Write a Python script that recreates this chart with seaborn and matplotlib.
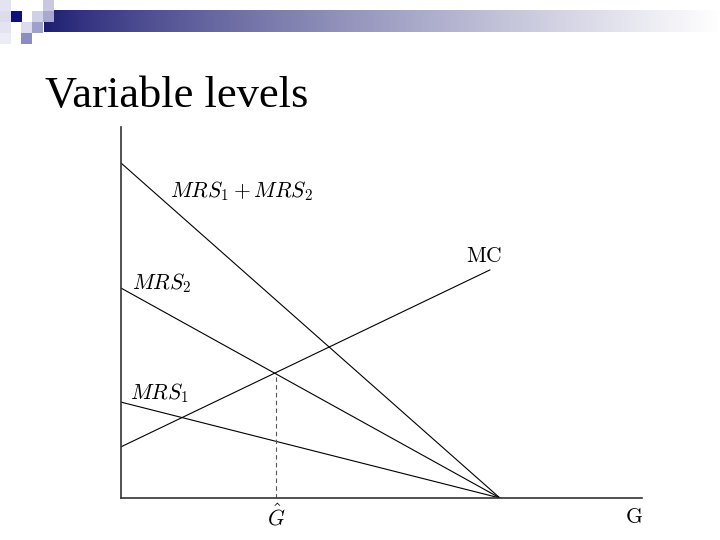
import numpy as np
import pandas as pd
import matplotlib.pyplot as plt
import matplotlib.patches as mpatches
import seaborn as sns

# Data (G on the x axis, value on the y axis)
g_ends = [0, 10]
mrs1 = [2.53, 0]
mrs2 = [5.54, 0]
mrs_sum = [8.84, 0]
mc_g = [0, 9.74]
mc = [1.35, 6.02]
g_hat = 4.09

sns.set_style('white')
plt.rcParams['mathtext.fontset'] = 'cm'
plt.rcParams['font.family'] = ['Liberation Serif', 'DejaVu Serif']
plt.rcParams['text.color'] = 'black'

df = pd.concat([
    pd.DataFrame({'G': g_ends, 'value': mrs_sum, 'curve': 'sum'}),
    pd.DataFrame({'G': g_ends, 'value': mrs2, 'curve': 'mrs2'}),
    pd.DataFrame({'G': g_ends, 'value': mrs1, 'curve': 'mrs1'}),
    pd.DataFrame({'G': mc_g, 'value': mc, 'curve': 'mc'}),
])

fig = plt.figure(figsize=(7.2, 5.4), dpi=100)

# Slide decoration: header squares and gradient bar
bg = fig.add_axes([0, 0, 1, 1], zorder=0)
bg.set_xlim(0, 720)
bg.set_ylim(540, 0)
bg.axis('off')
grad = np.linspace(0, 1, 256) ** 0.8
start = np.array([0.11, 0.11, 0.45])
cols = start[None, :] * (1 - grad[:, None]) + np.ones(3)[None, :] * grad[:, None]
bg.imshow(cols[None, :, :], extent=[44, 720, 32, 10], aspect='auto')
squares = [
    (0, 0, '#e4e4f0'), (0, 11, '#dcdcec'), (0, 22, '#e4e4f0'), (0, 33, '#ececf4'),
    (11, 11, '#10107a'), (43, 0, '#c8c8e0'), (32, 11, '#d0d0e6'), (43, 11, '#a8a8d0'),
    (21, 22, '#dcdcec'), (32, 22, '#a0a0cc'), (21, 33, '#8c8cc0'),
]
for x0, y0, c in squares:
    bg.add_patch(mpatches.Rectangle((x0, y0), 11, 11, color=c, lw=0))
fig.text(45 / 720, 1 - 107 / 540, 'Variable levels', fontsize=32,
         family=['Liberation Serif'], ha='left', va='baseline', color='black')

# Main diagram
ax = fig.add_axes([121 / 720, 42 / 540, 521 / 720, 371 / 540], zorder=1)
ax.patch.set_alpha(0)
sns.lineplot(data=df, x='G', y='value', units='curve', estimator=None,
             color='black', lw=0.8, ax=ax, legend=False)
mc_at_hat = np.interp(g_hat, mc_g, mc)
ax.plot([g_hat, g_hat], [0, mc_at_hat], color='#555555', lw=0.8, ls=(0, (4, 3)))

ax.set_xlim(0, 13.75)
ax.set_ylim(0, 9.79)
ax.set_xticks([])
ax.set_yticks([])
ax.set_xlabel('')
ax.set_ylabel('')
sns.despine(ax=ax)
for s in ['left', 'bottom']:
    ax.spines[s].set_color('#333333')
    ax.spines[s].set_linewidth(1.2)

ax.text(1.3, 8.1, r'$MRS_1 + MRS_2$', fontsize=15.5, ha='left', va='center')
ax.text(9.1, 6.1, r'$\mathrm{MC}$', fontsize=15.5, ha='left', va='bottom')
ax.text(0.3, 5.35, r'$MRS_2$', fontsize=15.5, ha='left', va='bottom')
ax.text(0.25, 2.45, r'$MRS_1$', fontsize=15.5, ha='left', va='bottom')
ax.text(g_hat, -0.17, r'$\hat{G}$', fontsize=15.5, ha='center', va='top')
ax.text(13.55, -0.3, r'$\mathrm{G}$', fontsize=15.5, ha='center', va='top')

plt.savefig('out.png', dpi=100)
